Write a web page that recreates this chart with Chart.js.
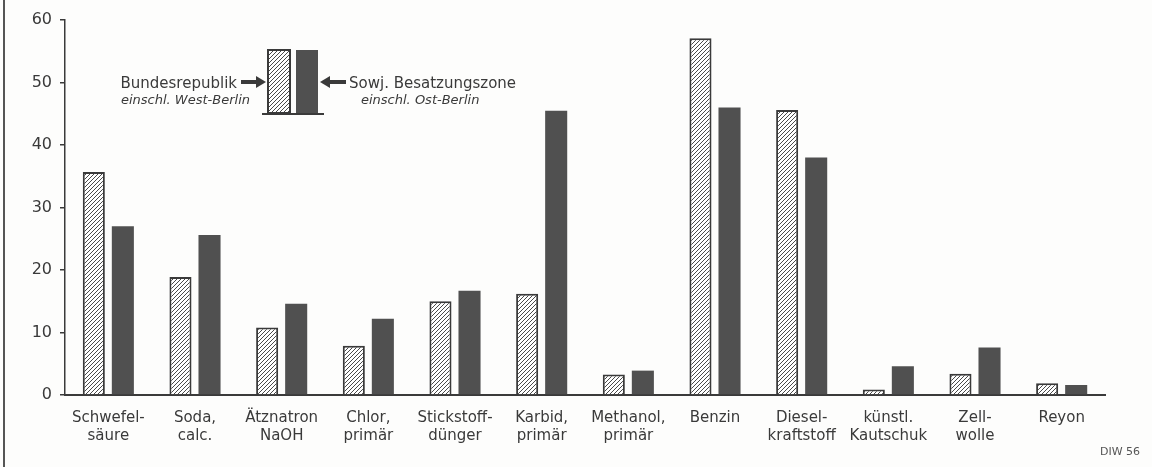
<!DOCTYPE html>
<html>
<head>
<meta charset="utf-8">
<script src="https://cdn.jsdelivr.net/npm/chart.js@4"></script>
<style>
  html, body { margin: 0; padding: 0; background: #fdfdfc; }
  #wrap { position: relative; width: 1152px; height: 467px; }
</style>
</head>
<body>
<div id="wrap"><canvas id="chart" width="1152" height="467"></canvas></div>
<script>
// categories (x labels, two lines each)
const categories = [
  ['Schwefel-', 'säure'],
  ['Soda,', 'calc.'],
  ['Ätznatron', 'NaOH'],
  ['Chlor,', 'primär'],
  ['Stickstoff-', 'dünger'],
  ['Karbid,', 'primär'],
  ['Methanol,', 'primär'],
  ['Benzin'],
  ['Diesel-', 'kraftstoff'],
  ['künstl.', 'Kautschuk'],
  ['Zell-', 'wolle'],
  ['Reyon']
]
// Bundesrepublik einschl. West-Berlin (hatched)
const west = [35.7, 18.9, 10.8, 7.9, 15.0, 16.2, 3.3, 57.1, 45.6, 0.9, 3.4, 1.9]
// Sowj. Besatzungszone einschl. Ost-Berlin (dark)
const east = [27.0, 25.6, 14.6, 12.2, 16.7, 45.5, 3.9, 46.0, 38.0, 4.6, 7.6, 1.6]
const yTicks = [0, 10, 20, 30, 40, 50, 60]

const ink = '#3a3a3a'
const darkFill = '#505050'
const labelFont = '"DejaVu Sans", sans-serif'

function hatch() {
  const c = document.createElement('canvas')
  c.width = 4; c.height = 4
  const g = c.getContext('2d')
  g.fillStyle = '#ffffff'
  g.fillRect(0, 0, 4, 4)
  g.strokeStyle = '#4a4a4a'
  g.lineWidth = 1
  g.beginPath()
  g.moveTo(-1, 5); g.lineTo(5, -1)
  g.moveTo(-1, 1); g.lineTo(1, -1)
  g.moveTo(3, 5); g.lineTo(5, 3)
  g.stroke()
  return g.createPattern(c, 'repeat')
}
const hatchFill = hatch()

// legend, side frame and source note
const extras = {
  id: 'extras',
  afterDraw(chart) {
    const ctx = chart.ctx
    ctx.save()
    // frame line on the left
    ctx.strokeStyle = '#555'
    ctx.lineWidth = 2
    ctx.beginPath(); ctx.moveTo(4, 0); ctx.lineTo(4, 467); ctx.stroke()

    // legend boxes
    ctx.fillStyle = hatchFill
    ctx.fillRect(268, 50, 22, 63)
    ctx.strokeStyle = ink
    ctx.lineWidth = 2
    ctx.strokeRect(268, 50, 22, 63)
    ctx.fillStyle = darkFill
    ctx.fillRect(296, 50, 22, 63)
    ctx.beginPath(); ctx.moveTo(262, 114); ctx.lineTo(324, 114); ctx.stroke()

    // arrows
    ctx.fillStyle = ink
    ctx.fillRect(241, 80, 17, 4)
    ctx.beginPath(); ctx.moveTo(266, 82); ctx.lineTo(256, 76); ctx.lineTo(256, 88); ctx.closePath(); ctx.fill()
    ctx.fillRect(329, 80, 17, 4)
    ctx.beginPath(); ctx.moveTo(320, 82); ctx.lineTo(330, 76); ctx.lineTo(330, 88); ctx.closePath(); ctx.fill()

    // legend text
    ctx.fillStyle = ink
    ctx.font = '15px ' + labelFont
    ctx.textAlign = 'right'
    ctx.textBaseline = 'alphabetic'
    ctx.fillText('Bundesrepublik', 237, 88)
    ctx.textAlign = 'left'
    ctx.fillText('Sowj. Besatzungszone', 349, 88)
    ctx.font = 'italic 13px ' + labelFont
    ctx.textAlign = 'right'
    ctx.fillText('einschl. West-Berlin', 250, 104)
    ctx.textAlign = 'left'
    ctx.fillText('einschl. Ost-Berlin', 361, 104)

    // source
    ctx.font = '11px ' + labelFont
    ctx.fillStyle = '#555'
    ctx.textAlign = 'right'
    ctx.fillText('DIW 56', 1140, 455)
    ctx.restore()
  }
}

new Chart(document.querySelector('#chart'), {
  type: 'bar',
  data: {
    labels: categories,
    datasets: [
      {
        label: 'Bundesrepublik einschl. West-Berlin',
        data: west,
        backgroundColor: hatchFill,
        borderColor: ink,
        borderWidth: 2,
        borderSkipped: 'bottom'
      },
      {
        label: 'Sowj. Besatzungszone einschl. Ost-Berlin',
        data: east,
        backgroundColor: darkFill,
        borderColor: '#4c4c4c',
        borderWidth: 0
      }
    ]
  },
  options: {
    responsive: false,
    animation: false,
    categoryPercentage: 0.67,
    barPercentage: 0.76,
    layout: { padding: { left: 0, right: 47, top: 20, bottom: 0 } },
    plugins: { legend: { display: false }, tooltip: { enabled: false } },
    scales: {
      x: {
        grid: { display: false },
        border: { color: ink, width: 2 },
        ticks: { color: ink, font: { family: labelFont, size: 15, lineHeight: 1.2 }, padding: 6, maxRotation: 0, autoSkip: false },
        afterFit(s) { s.height = 72 }
      },
      y: {
        min: 0,
        max: 60,
        afterBuildTicks(s) { s.ticks = yTicks.map(v => ({ value: v })) },
        grid: { drawOnChartArea: false, color: ink, tickLength: 5, lineWidth: 1.5 },
        border: { color: ink, width: 1.5 },
        ticks: { color: ink, font: { family: labelFont, size: 16 }, padding: 8 },
        afterFit(s) { s.width = 65 }
      }
    }
  },
  plugins: [extras]
})
</script>
</body>
</html>
